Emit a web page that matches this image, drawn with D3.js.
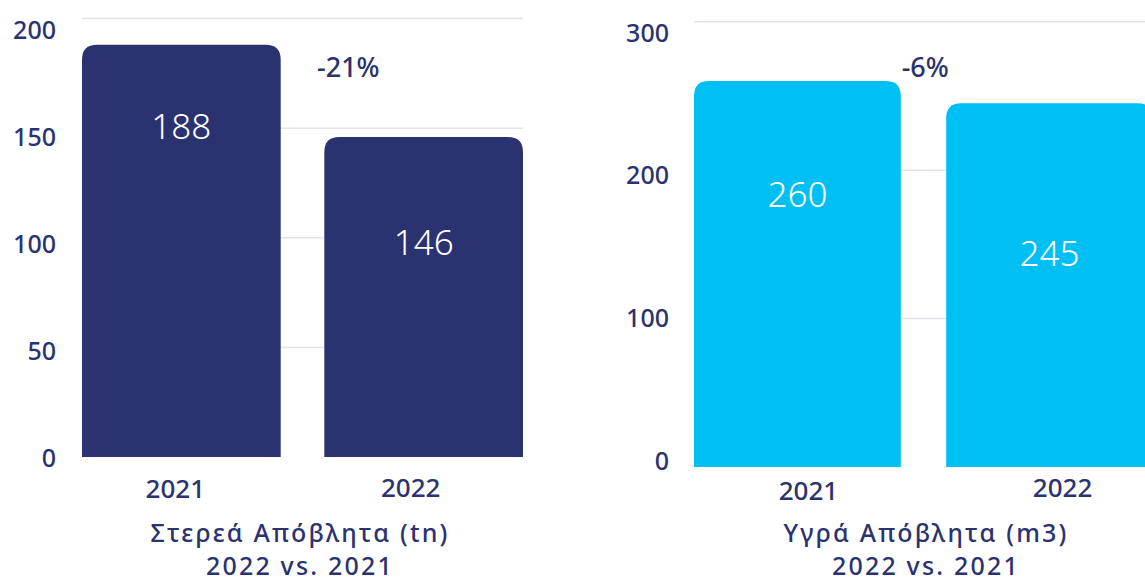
<!DOCTYPE html>
<html>
<head>
<meta charset="utf-8">
<script src="https://cdn.jsdelivr.net/npm/d3@7"></script>
<style>
  html, body { margin: 0; padding: 0; background: #ffffff; }
  svg { display: block; }
  text { font-family: "Noto Sans", "DejaVu Sans", sans-serif; }
</style>
</head>
<body>
<svg id="chart" width="1145" height="584"></svg>
<script>
// ---- data ----
const years = ["2021", "2022"];
const solidValues = [188, 146];
const liquidValues = [260, 245];
const solidTicks = [0, 50, 100, 150, 200];
const liquidTicks = [0, 100, 200, 300];
const solidTitle = ["Στερεά Απόβλητα (tn)", "2022 vs. 2021"];
const liquidTitle = ["Υγρά Απόβλητα (m3)", "2022 vs. 2021"];
const solidChange = "-21%";
const liquidChange = "-6%";

// ---- style ----
const navy = "#2b3270";
const cyan = "#00bff2";
const gridColor = "#e3e3ec";

const svg = d3.select("#chart");

function roundedTopBar(x, y, w, h, r) {
  r = Math.min(r, w / 2, h);
  return `M${x},${y + h}V${y + r}Q${x},${y} ${x + r},${y}H${x + w - r}Q${x + w},${y} ${x + w},${y + r}V${y + h}Z`;
}

function panel(cfg) {
  const g = svg.append("g");
  const y = d3.scaleLinear().domain(cfg.domain).range(cfg.gridRange);
  const yLab = d3.scaleLinear().domain(cfg.domain).range(cfg.labelRange);
  const x = d3.scaleBand().domain(years).range(cfg.xRange).paddingInner(0.18).paddingOuter(0);

  // gridlines
  g.append("g").selectAll("line")
    .data(cfg.ticks.filter(t => t > 0))
    .join("line")
    .attr("x1", cfg.xRange[0]).attr("x2", cfg.gridEnd)
    .attr("y1", d => y(d)).attr("y2", d => y(d))
    .attr("stroke", gridColor).attr("stroke-width", 1.5);

  // y tick labels
  g.append("g").selectAll("text")
    .data(cfg.ticks)
    .join("text")
    .attr("x", cfg.tickX)
    .attr("y", d => yLab(d))
    .attr("dy", "0.35em")
    .attr("text-anchor", "end")
    .attr("fill", navy)
    .attr("font-size", 25)
    .attr("font-weight", 500)
    .text(d => d);

  // bars
  g.append("g").selectAll("path")
    .data(cfg.values)
    .join("path")
    .attr("d", (d, i) => roundedTopBar(x(years[i]), y(d), x.bandwidth(), y(0) - y(d), 15))
    .attr("fill", cfg.color);

  // value labels
  g.append("g").selectAll("text")
    .data(cfg.values)
    .join("text")
    .attr("x", (d, i) => x(years[i]) + x.bandwidth() / 2)
    .attr("y", (d, i) => y(d) + cfg.valueDy[i])
    .attr("dy", "0.35em")
    .attr("text-anchor", "middle")
    .attr("fill", "#ffffff")
    .attr("font-size", 35)
    .attr("font-weight", 300)
    .text(d => d);

  // category labels
  g.append("g").selectAll("text")
    .data(years)
    .join("text")
    .attr("x", (d, i) => x(d) + x.bandwidth() / 2 + cfg.catDx[i])
    .attr("y", (d, i) => cfg.catY[i])
    .attr("dy", "0.35em")
    .attr("text-anchor", "middle")
    .attr("fill", navy)
    .attr("font-size", 26)
    .attr("font-weight", 500)
    .text(d => d);

  // change label
  g.append("text")
    .attr("x", x(years[1]) + cfg.changeDx)
    .attr("y", 68)
    .attr("dy", "0.35em")
    .attr("text-anchor", "middle")
    .attr("fill", navy)
    .attr("font-size", 27)
    .attr("font-weight", 500)
    .text(cfg.change);

  // title
  g.append("g").selectAll("text")
    .data(cfg.title)
    .join("text")
    .attr("x", cfg.titleX)
    .attr("y", (d, i) => 533 + i * 33)
    .attr("dy", "0.35em")
    .attr("text-anchor", "middle")
    .attr("fill", navy)
    .attr("font-size", 25)
    .attr("font-weight", 500)
    .attr("letter-spacing", 2.2)
    .text(d => d);
}

panel({
  domain: [0, 200], gridRange: [457, 18.5], labelRange: [458, 30],
  xRange: [82, 523], gridEnd: 523, tickX: 56,
  ticks: solidTicks, values: solidValues, color: navy,
  valueDy: [82, 106], catDx: [-6, -13], catY: [489, 488],
  change: solidChange, changeDx: 24,
  title: solidTitle, titleX: 300
});

panel({
  domain: [0, 300], gridRange: [467, 21.7], labelRange: [461, 33],
  xRange: [694, 1153], gridEnd: 1145, tickX: 669,
  ticks: liquidTicks, values: liquidValues, color: cyan,
  valueDy: [114, 150], catDx: [11, 13], catY: [491, 488],
  change: liquidChange, changeDx: -21,
  title: liquidTitle, titleX: 926
});
</script>
</body>
</html>
